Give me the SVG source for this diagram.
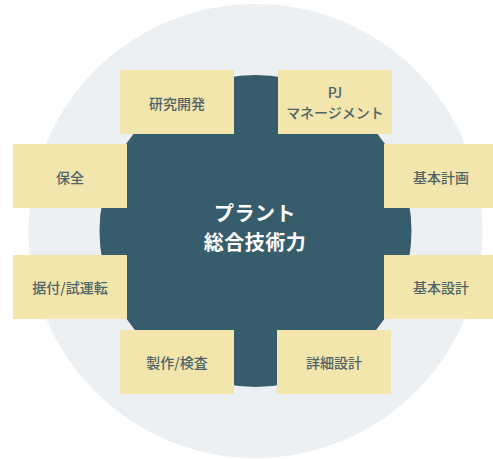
<svg xmlns="http://www.w3.org/2000/svg" width="493" height="459" viewBox="0 0 493 459">
<style>
.box{fill:#f2e6ad}
.lbl{font-family:"Noto Sans CJK JP","Noto Sans",sans-serif;font-size:14px;fill:#4f6468;text-anchor:middle;font-weight:500}
.ctr{font-family:"Noto Sans CJK JP","Noto Sans",sans-serif;font-size:20px;fill:#ffffff;text-anchor:middle;font-weight:700;letter-spacing:0.5px}
</style>
<rect width="493" height="459" fill="#ffffff"/>
<g id="background">
<circle cx="255.5" cy="231" r="227" fill="#edf0f3"/>
</g>
<g id="center">
<circle cx="255.5" cy="231" r="156" fill="#375d6c"/>
<text class="ctr" x="255" y="220.5">プラント</text>
<text class="ctr" x="255" y="249.5">総合技術力</text>
</g>
<g id="connectors"></g>
<g id="n-kenkyu">
<rect class="box" x="120" y="70" width="114" height="64"/>
<text class="lbl" x="177" y="108.5">研究開発</text>
</g>
<g id="n-pj">
<rect class="box" x="278" y="70" width="114" height="64"/>
<text class="lbl" x="335" y="98">PJ</text>
<text class="lbl" x="335" y="118">マネージメント</text>
</g>
<g id="n-hozen">
<rect class="box" x="13" y="144" width="114" height="64"/>
<text class="lbl" x="70" y="183">保全</text>
</g>
<g id="n-kihonkeikaku">
<rect class="box" x="384" y="144" width="114" height="64"/>
<text class="lbl" x="441" y="183">基本計画</text>
</g>
<g id="n-suetsuke">
<rect class="box" x="13" y="255" width="114" height="64"/>
<text class="lbl" x="70" y="293">据付/試運転</text>
</g>
<g id="n-kihonsekkei">
<rect class="box" x="384" y="255" width="114" height="64"/>
<text class="lbl" x="441" y="293">基本設計</text>
</g>
<g id="n-seisaku">
<rect class="box" x="120" y="330" width="114" height="64"/>
<text class="lbl" x="177" y="368">製作/検査</text>
</g>
<g id="n-shosai">
<rect class="box" x="277" y="330" width="114" height="64"/>
<text class="lbl" x="334" y="368">詳細設計</text>
</g>
</svg>
